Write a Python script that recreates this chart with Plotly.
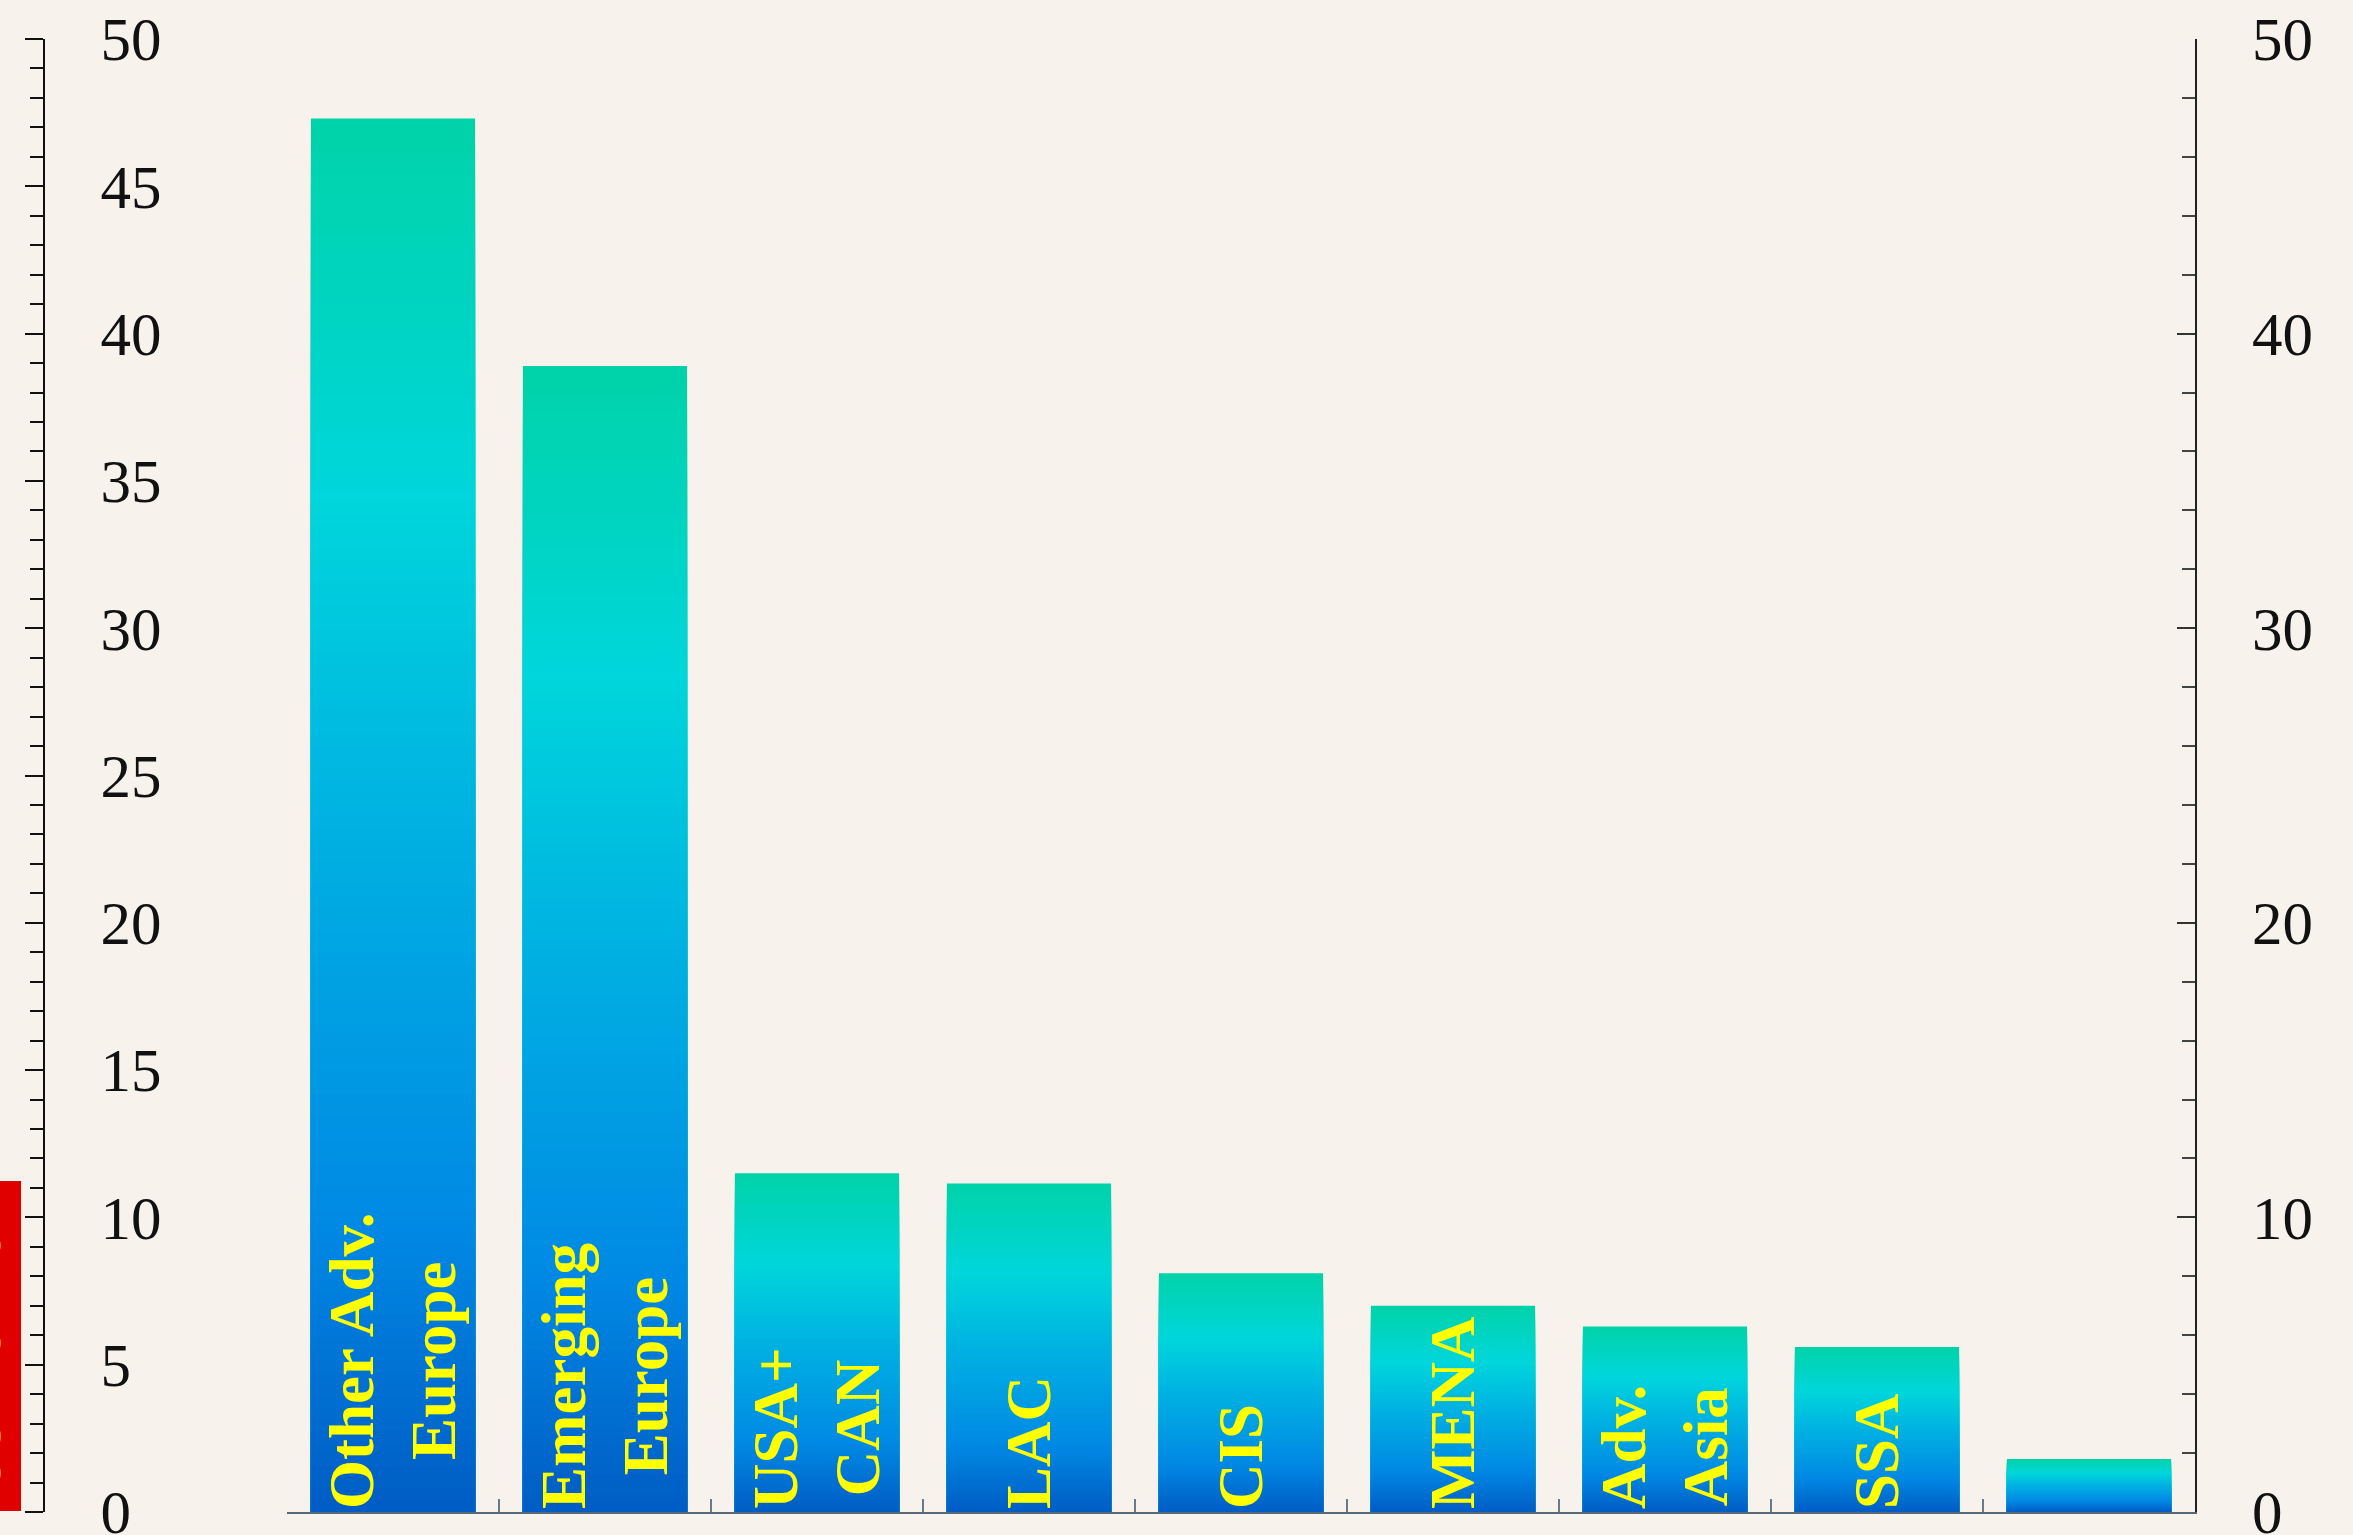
import plotly.graph_objects as go

# ---- data -------------------------------------------------------------
regions = ["Other Adv.<br>Europe", "Emerging<br>Europe", "USA+<br>CAN", "LAC",
           "CIS", "MENA", "Adv.<br>Asia", "SSA", ""]
values = [47.3, 38.9, 11.5, 11.15, 8.1, 7.0, 6.3, 5.6, 1.8]
axis_title = "USD billion"

# ---- styling ----------------------------------------------------------
W, H = 2353, 1535
M_L, M_R, M_T, M_B = 44, 158, 39, 23
PLOT_W = W - M_L - M_R
BAR_AXIS_START = 287
BG = "#F7F3EC"
SERIF = "Liberation Serif"
SLATE = "#55687A"

# vertical gradient stops (fraction measured from the bar top)
grad_stops = [
    (0.00, (0, 211, 168)),
    (0.27, (0, 214, 219)),
    (0.50, (0, 178, 226)),
    (0.80, (0, 136, 228)),
    (1.00, (0, 92, 196)),
]


def grad(t):
    for (t0, c0), (t1, c1) in zip(grad_stops[:-1], grad_stops[1:]):
        if t <= t1:
            f = (t - t0) / (t1 - t0)
            return "rgb(%d,%d,%d)" % tuple(round(a + (b - a) * f) for a, b in zip(c0, c1))
    return "rgb(%d,%d,%d)" % grad_stops[-1][1]


xs = list(range(len(values)))
BAR_W = 0.774
N_LAYERS = 120

fig = go.Figure()

# gradient fill: overlaid bars, each shorter layer painted over the taller one
for k in range(N_LAYERS):
    frac = 1 - k / N_LAYERS
    fig.add_trace(go.Bar(
        x=xs, y=[v * frac for v in values], width=BAR_W,
        marker=dict(color=grad((k + 0.5) / N_LAYERS), line=dict(width=0)),
        hoverinfo="skip", showlegend=False,
    ))

# transparent full-height bars carrying the region labels
fig.add_trace(go.Bar(
    x=xs, y=values, width=BAR_W,
    marker=dict(color="rgba(0,0,0,0)", line=dict(width=0)),
    text=["<b>%s</b>" % r if r else "" for r in regions],
    textposition="inside", insidetextanchor="start", textangle=-90,
    constraintext="none",
    textfont=dict(family=SERIF, size=63, color="#FFFF00"),
    hoverinfo="skip", showlegend=False,
))

# invisible trace so the right-hand axis is drawn
fig.add_trace(go.Scatter(x=[0], y=[0], yaxis="y2", mode="markers",
                         marker=dict(opacity=0), hoverinfo="skip", showlegend=False))

tick_font = dict(family=SERIF, size=61, color="#111111")

PAD = 8
fig.update_layout(
    width=W, height=H,
    margin=dict(l=M_L, r=M_R, t=M_T, b=M_B, autoexpand=False),
    paper_bgcolor=BG, plot_bgcolor=BG,
    barmode="overlay",
    showlegend=False,
    xaxis=dict(
        domain=[(BAR_AXIS_START - M_L) / PLOT_W, 1],
        range=[-0.5, len(values) - 0.5],
        tickmode="array", tickvals=[i - 0.5 for i in range(len(values) + 1)],
        ticks="inside", ticklen=13, tickwidth=2, tickcolor="#6A7A88",
        showticklabels=False, showline=True, linecolor=SLATE, linewidth=2,
        showgrid=False, zeroline=False, fixedrange=True, automargin=False,
    ),
    yaxis=dict(
        range=[0, 50], anchor="free", position=0, side="left",
        tick0=0, dtick=5, ticks="outside", ticklen=18, tickwidth=1.5,
        tickcolor="#111111",
        minor=dict(dtick=1, ticks="outside", ticklen=13, tickwidth=1.5,
                   tickcolor="#111111", showgrid=False),
        ticklabelposition="inside", ticklabelstandoff=65,
        ticklabeloverflow="allow", automargin=False,
        showline=True, linecolor="#111111", linewidth=1.5,
        tickfont=tick_font, showgrid=False, zeroline=False,
    ),
    yaxis2=dict(
        range=[0, 50], overlaying="y", side="right", anchor="x",
        tick0=0, dtick=10, ticks="inside", ticklen=18, tickwidth=1.5,
        tickcolor="#333333",
        minor=dict(dtick=2, ticks="inside", ticklen=13, tickwidth=1.5,
                   tickcolor="#444444", showgrid=False),
        ticklabelstandoff=43, ticklabeloverflow="allow", automargin=False,
        showline=True, linecolor="#222222", linewidth=1.5,
        tickfont=tick_font, showgrid=False, zeroline=False,
    ),
    annotations=[dict(
        text="<b>%s</b>" % axis_title, textangle=-90,
        xref="paper", yref="paper",
        x=(21 - M_L) / PLOT_W, xanchor="right",
        y=0, yanchor="bottom",
        width=329 - 2 * PAD, borderpad=PAD,
        showarrow=False, bgcolor="#E00000",
        font=dict(family=SERIF, size=60, color="#FFFF00"),
    )],
)

fig.write_html("out.html")
